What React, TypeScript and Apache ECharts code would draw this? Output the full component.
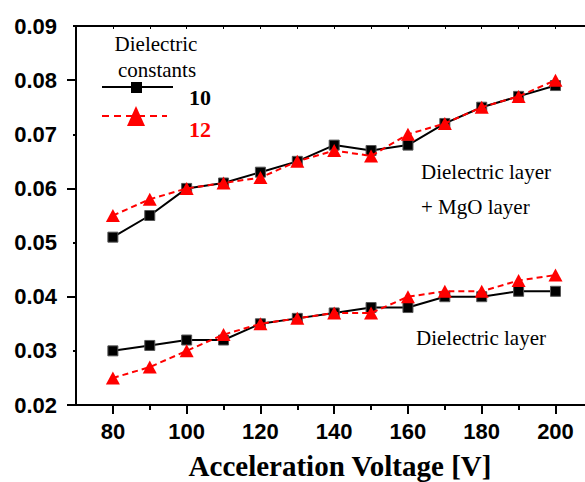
import React, { useEffect, useRef } from "react";
import * as echarts from "echarts";

const voltages = [80, 90, 100, 110, 120, 130, 140, 150, 160, 170, 180, 190, 200];
const mgo10 = [0.051, 0.055, 0.06, 0.061, 0.063, 0.065, 0.068, 0.067, 0.068, 0.072, 0.075, 0.077, 0.079];
const mgo12 = [0.055, 0.058, 0.06, 0.061, 0.062, 0.065, 0.067, 0.066, 0.07, 0.072, 0.075, 0.077, 0.08];
const diel10 = [0.03, 0.031, 0.032, 0.032, 0.035, 0.036, 0.037, 0.038, 0.038, 0.04, 0.04, 0.041, 0.041];
const diel12 = [0.025, 0.027, 0.03, 0.033, 0.035, 0.036, 0.037, 0.037, 0.04, 0.041, 0.041, 0.043, 0.044];

const xMajorTicks = [80, 100, 120, 140, 160, 180, 200];
const xMinorTicks = [90, 110, 130, 150, 170, 190];
const xTopTicks = [80, 90, 100, 110, 120, 130, 140, 150, 160, 170, 180, 190, 200];
const yLabels = [0.02, 0.03, 0.04, 0.05, 0.06, 0.07, 0.08, 0.09];
const yLongTicks = [0.02, 0.04, 0.06, 0.08];
const yShortTicks = [0.03, 0.05, 0.07, 0.09];

const SERIF = "Liberation Serif";
const SANS = "Liberation Sans";

const X_MIN = 70;
const X_MAX = 208;
const Y_MIN = 0.02;
const Y_MAX = 0.09;

function pairs(ys: number[]) {
  return voltages.map((v, i) => [v, ys[i]]);
}

function txt(x: number, y: number, text: string, size: number, opts: any = {}) {
  return {
    type: "text",
    x,
    y,
    style: {
      text,
      fontFamily: SERIF,
      fontSize: size,
      fontWeight: opts.bold ? "bold" : "normal",
      fill: opts.color || "#000",
      textAlign: opts.align || "left",
      textVerticalAlign: "middle",
    },
  };
}

export default function App() {
  const ref = useRef<HTMLDivElement>(null);
  useEffect(() => {
    if (!ref.current) return;
    const chart = echarts.init(ref.current, undefined, { renderer: "svg" });
    const baseX = {
      type: "value" as const,
      min: X_MIN,
      max: X_MAX,
      splitLine: { show: false },
    };
    const baseY = {
      type: "value" as const,
      min: Y_MIN,
      max: Y_MAX,
      splitLine: { show: false },
    };
    const blackSeries = (data: number[]) => ({
      type: "line",
      data: pairs(data),
      symbol: "rect",
      symbolSize: 10,
      lineStyle: { color: "#000", width: 2 },
      itemStyle: { color: "#000", borderColor: "#555", borderWidth: 1 },
      z: 3,
    });
    const redSeries = (data: number[]) => ({
      type: "line",
      data: pairs(data),
      symbol: "triangle",
      symbolSize: [14, 13],
      lineStyle: { color: "#ff0000", width: 2, type: [6, 4] },
      itemStyle: { color: "#ff0000" },
      z: 4,
    });
    chart.setOption({
      animation: false,
      grid: { left: 76, right: 0, top: 26, bottom: 77, containLabel: false },
      xAxis: [
        {
          ...baseX,
          position: "bottom",
          axisLine: { show: true, lineStyle: { color: "#000", width: 2 } },
          axisTick: { show: true, inside: false, length: 9, customValues: xMajorTicks, lineStyle: { color: "#000", width: 2 } },
          axisLabel: {
            show: true,
            customValues: xMajorTicks,
            margin: 15,
            fontFamily: SANS,
            fontWeight: "bold",
            fontSize: 22,
            color: "#000",
          },
        },
        {
          ...baseX,
          position: "bottom",
          axisLine: { show: false },
          axisTick: { show: true, inside: false, length: 5, customValues: xMinorTicks, lineStyle: { color: "#000", width: 2 } },
          axisLabel: { show: false },
        },
        {
          ...baseX,
          position: "top",
          axisLine: { show: true, lineStyle: { color: "#000", width: 2 } },
          axisTick: { show: true, inside: true, length: 3, customValues: xTopTicks, lineStyle: { color: "#000", width: 1 } },
          axisLabel: { show: false },
        },
      ],
      yAxis: [
        {
          ...baseY,
          position: "left",
          axisLine: { show: true, lineStyle: { color: "#000", width: 2 } },
          axisTick: { show: true, inside: false, length: 9, customValues: yLongTicks, lineStyle: { color: "#000", width: 2 } },
          axisLabel: {
            show: true,
            customValues: yLabels,
            margin: 19,
            formatter: (v: number) => v.toFixed(2),
            fontFamily: SANS,
            fontWeight: "bold",
            fontSize: 22,
            color: "#000",
          },
        },
        {
          ...baseY,
          position: "left",
          axisLine: { show: false },
          axisTick: { show: true, inside: false, length: 3, customValues: yShortTicks, lineStyle: { color: "#000", width: 2 } },
          axisLabel: { show: false },
        },
      ],
      series: [
        { ...blackSeries(mgo10), name: "10" },
        { ...blackSeries(diel10), name: "10" },
        { ...redSeries(mgo12), name: "12" },
        { ...redSeries(diel12), name: "12" },
      ],
      graphic: [
        txt(156, 44, "Dielectric", 21, { align: "center" }),
        txt(157, 70, "constants", 21, { align: "center" }),
        { type: "line", shape: { x1: 102, y1: 87, x2: 173, y2: 87 }, style: { stroke: "#000", lineWidth: 2 } },
        { type: "rect", shape: { x: 131, y: 82, width: 11, height: 11 }, style: { fill: "#000" } },
        txt(189, 97, "10", 22, { bold: true }),
        { type: "line", shape: { x1: 102, y1: 116, x2: 167, y2: 116 }, style: { stroke: "#ff0000", lineWidth: 2, lineDash: [7, 5] } },
        { type: "polygon", shape: { points: [[136, 106], [127, 126], [145, 126]] }, style: { fill: "#ff0000" } },
        txt(189, 129, "12", 22, { bold: true, color: "#ff0000" }),
        txt(421, 172, "Dielectric layer", 21),
        txt(421, 207, "+ MgO layer", 21),
        txt(416, 338, "Dielectric layer", 21),
        txt(340, 466, "Acceleration Voltage [V]", 29, { bold: true, align: "center" }),
      ],
    });
    return () => chart.dispose();
  }, []);
  return <div ref={ref} style={{ width: 585, height: 482, position: "absolute", left: 0, top: 0 }} />;
}
